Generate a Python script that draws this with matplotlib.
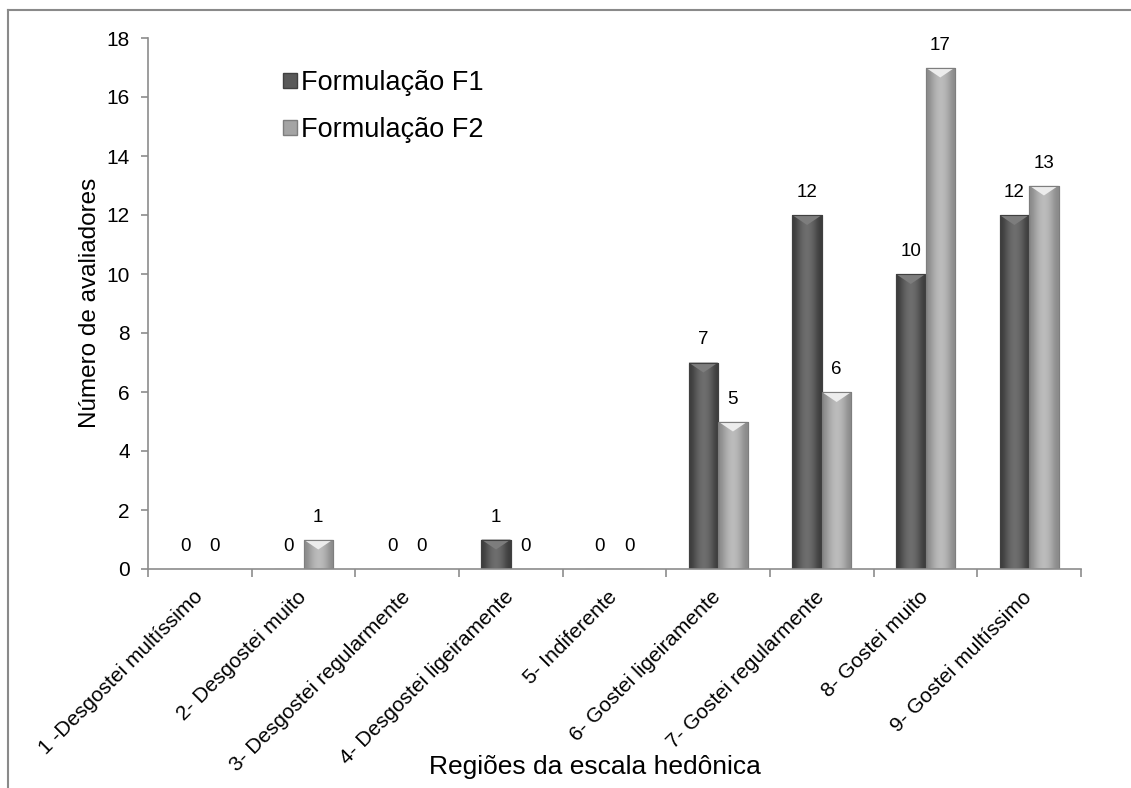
import matplotlib
matplotlib.use("Agg")
import matplotlib.pyplot as plt
import numpy as np
from matplotlib.lines import Line2D
from matplotlib.patches import Polygon, Patch
from matplotlib.colors import LinearSegmentedColormap

plt.rcParams['font.family'] = ['Liberation Sans', 'DejaVu Sans']

categories = ["1 -Desgostei multíssimo", "2- Desgostei muito", "3- Desgostei regularmente",
              "4- Desgostei ligeiramente", "5- Indiferente", "6- Gostei ligeiramente",
              "7- Gostei regularmente", "8- Gostei muito", "9- Gostei multíssimo"]
f1_values = [0, 0, 0, 1, 0, 7, 12, 10, 12]
f2_values = [0, 1, 0, 0, 0, 5, 6, 17, 13]
series_names = ["Formulação F1", "Formulação F2"]
y_ticks = [0, 2, 4, 6, 8, 10, 12, 14, 16, 18]

W, H = 1131, 788
fig = plt.figure(figsize=(W / 100, H / 100), dpi=100)
ax = fig.add_axes([148 / W, 1 - 569 / H, (1081 - 148) / W, (569 - 38) / H])

n = len(categories)
x = np.arange(n)
bw = 0.285
gray = "#8c8c8c"

styles = [
    dict(base="#595959", dark="#3c3c3c", light="#6e6e6e", chev="#7d7d7d", edge="#404040"),
    dict(base="#a4a4a4", dark="#8a8a8a", light="#bcbcbc", chev="#ececec", edge="#7e7e7e"),
]

px_per_unit = (569 - 38) / 18.0
chev_depth = 10 / px_per_unit

for vals, off, st in [(f1_values, -bw / 2, styles[0]), (f2_values, bw / 2, styles[1])]:
    bars = ax.bar(x + off, vals, width=bw, color=st["base"], edgecolor=st["edge"],
                  linewidth=0.8, zorder=2)
    cmap = LinearSegmentedColormap.from_list("g", [st["dark"], st["light"]])
    for b in bars:
        h = b.get_height()
        if h <= 0:
            continue
        x0, w = b.get_x(), b.get_width()
        grad = np.array([[0.0, 0.6, 1.0, 1.0, 0.6, 0.0]])
        im = ax.imshow(grad, cmap=cmap, aspect="auto", extent=[x0, x0 + w, 0, h],
                       interpolation="bicubic", zorder=2.1)
        im.set_clip_path(b)
        d = min(chev_depth, h / 2)
        tri = Polygon([[x0, h], [x0 + w, h], [x0 + w / 2, h - d]], closed=True,
                      facecolor=st["chev"], edgecolor="none", zorder=2.2)
        ax.add_patch(tri)
        outline = Polygon([[x0, 0], [x0, h], [x0 + w, h], [x0 + w, 0]], closed=True,
                          facecolor="none", edgecolor=st["edge"], linewidth=0.8, zorder=2.3)
        ax.add_patch(outline)
    for xi, v in zip(x + off, vals):
        ax.text(xi, v + 14 / px_per_unit, str(v), ha="center", va="bottom",
                fontsize=13.5, color="black", zorder=3)

ax.set_xlim(-0.5, n - 0.5)
ax.set_ylim(0, 18)
ax.set_yticks(y_ticks)
ax.set_yticklabels([str(t) for t in y_ticks], fontsize=15)
ax.set_xticks(x)
ax.set_xticklabels(categories, rotation=45, ha="right", va="center",
                   rotation_mode="anchor", fontsize=15)
ax.set_xticks(np.arange(n + 1) - 0.5, minor=True)
ax.tick_params(axis="x", which="major", length=0, pad=18)
ax.tick_params(axis="x", which="minor", length=6, color=gray, width=1.2, direction="out")
ax.tick_params(axis="y", length=5, color=gray, width=1.2, pad=8)

for s in ["top", "right"]:
    ax.spines[s].set_visible(False)
for s in ["left", "bottom"]:
    ax.spines[s].set_color(gray)
    ax.spines[s].set_linewidth(1.2)

ax.set_ylabel("Número de avaliadores", fontsize=17.5)
ax.yaxis.set_label_coords((101 - 148) / (1081 - 148), (569 - 303) / (569 - 38))
fig.text(595 / W, 1 - 767 / H, "Regiões da escala hedônica", ha="center", va="center",
         fontsize=19)

handles = [Patch(facecolor=styles[0]["base"], edgecolor=styles[0]["edge"]),
           Patch(facecolor=styles[1]["base"], edgecolor=styles[1]["edge"])]
fig.legend(handles, series_names, loc="upper left", bbox_to_anchor=(283 / W, 1 - 70 / H),
           frameon=False, fontsize=19.5, handlelength=0.5, handleheight=0.5,
           handletextpad=0.15, labelspacing=0.78, borderaxespad=0, borderpad=0)

fig.add_artist(Line2D([8 / W, 8 / W], [0, 1 - 10 / H], color="#8a8a8a", lw=1.5,
                      transform=fig.transFigure))
fig.add_artist(Line2D([8 / W, 1], [1 - 10 / H, 1 - 10 / H], color="#8a8a8a", lw=1.5,
                      transform=fig.transFigure))

fig.savefig("out.png", dpi=100)
